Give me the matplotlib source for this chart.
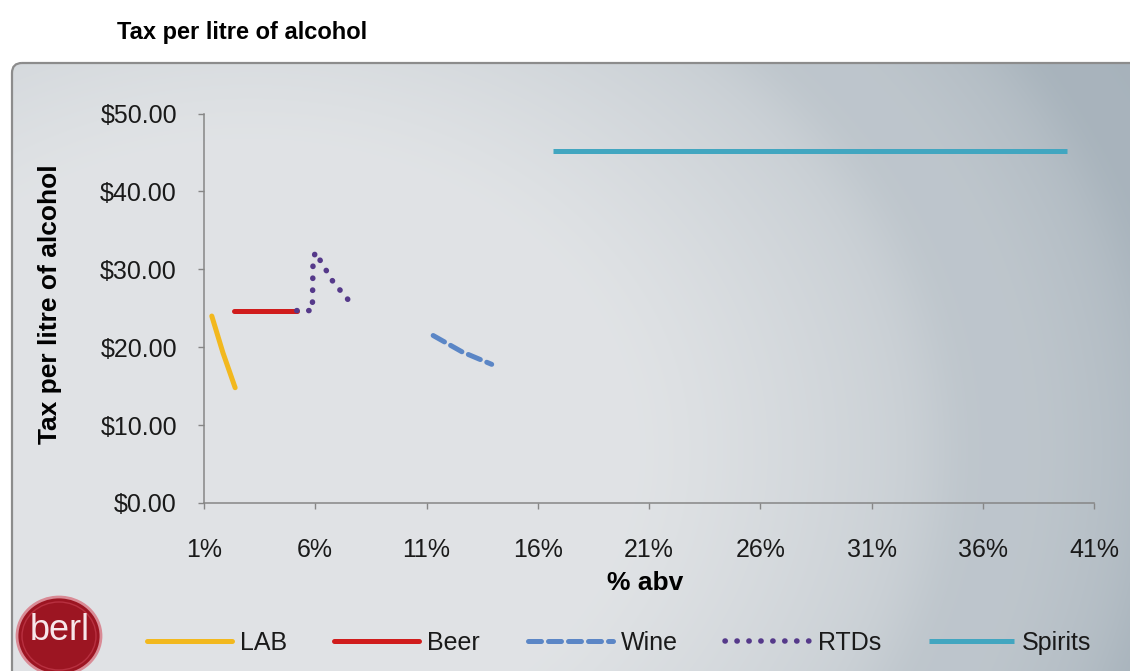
import numpy as np
import matplotlib
matplotlib.use("Agg")
import matplotlib.pyplot as plt
from matplotlib.patches import FancyBboxPatch, Ellipse

plt.rcParams['font.family'] = ['Liberation Sans', 'DejaVu Sans']

# ---- data ----
lab_x = [1.35, 1.85, 2.4]
lab_y = [24.0, 19.3, 14.8]
beer_x = [2.35, 5.17]
beer_y = [24.7, 24.7]
wine_x = [11.3, 12.6, 13.93]
wine_y = [21.5, 19.4, 17.8]
rtd_x = [5.17, 5.87, 5.9, 6.0, 6.8, 7.68]
rtd_y = [24.7, 24.7, 31.0, 32.2, 28.4, 25.4]
spirits_x = [16.7, 39.8]
spirits_y = [45.2, 45.2]
x_ticks = [1, 6, 11, 16, 21, 26, 31, 36, 41]
y_ticks = [0, 10, 20, 30, 40, 50]

W, H = 1130, 671
fig = plt.figure(figsize=(W / 100, H / 100), dpi=100)
fig.patch.set_facecolor('white')

# ---- background panel ----
bg = fig.add_axes([0, 0, 1, 1], zorder=0)
bg.set_xlim(0, W)
bg.set_ylim(H, 0)
bg.axis('off')

yy, xx = np.mgrid[0:H, 0:W].astype(float)
r = np.sqrt(((xx - 250) / 1.0) ** 2 + ((yy - 450) / 0.8) ** 2)
t = np.clip((r - 380) / 620, 0, 1) ** 1.2
t += 0.10 * np.exp(-((r - 720) / 45) ** 2)
t += 0.10 * np.exp(-((r - 930) / 40) ** 2)
t = np.clip(t, 0, 1)
light = np.array([0.880, 0.890, 0.900])
dark = np.array([0.655, 0.700, 0.735])
img = light[None, None, :] * (1 - t[..., None]) + dark[None, None, :] * t[..., None]

panel = FancyBboxPatch((12, 63), W + 40, H, boxstyle="round,pad=0,rounding_size=10",
                       transform=bg.transData, facecolor='none', edgecolor='#8c8c8c',
                       linewidth=1.6, zorder=2)
im = bg.imshow(img, extent=(0, W, H, 0), zorder=1, aspect='auto')
clip = FancyBboxPatch((12, 63), W + 40, H, boxstyle="round,pad=0,rounding_size=10",
                      transform=bg.transData, facecolor='none', edgecolor='none')
bg.add_patch(clip)
im.set_clip_path(clip)
bg.add_patch(panel)

# logo
bg.add_patch(Ellipse((59, 636), 84, 78, facecolor='#9c1522', edgecolor='#d98a95',
                     linewidth=2.0, zorder=3))
bg.add_patch(Ellipse((59, 636), 74, 68, facecolor='none', edgecolor='#b83040',
                     linewidth=1.0, zorder=3))
bg.text(60, 630, 'berl', color='#f7e6ea', fontsize=26, ha='center', va='center',
        zorder=4, family=['Liberation Sans', 'DejaVu Sans'])

# ---- main axes ----
x0, x1 = 204, 1094
y0, y1 = 503, 113.5
ax = fig.add_axes([x0 / W, 1 - y0 / H, (x1 - x0) / W, (y0 - y1) / H], zorder=3)
ax.patch.set_alpha(0)

lw = 3.6
ax.plot(lab_x, lab_y, color='#f2b81e', lw=lw, solid_capstyle='round', label='LAB')
ax.plot(beer_x, beer_y, color='#d01c1c', lw=lw, solid_capstyle='round', label='Beer')
ax.plot(wine_x, wine_y, color='#5b86c6', lw=lw, linestyle=(0, (2.6, 1.4)),
        dash_capstyle='round', label='Wine')
ax.plot(rtd_x, rtd_y, color='#55398a', lw=4.0, linestyle=(0, (0.05, 2.1)),
        dash_capstyle='round', label='RTDs')
ax.plot(spirits_x, spirits_y, color='#42a6c0', lw=lw, solid_capstyle='butt', label='Spirits')

ax.set_xlim(1, 41)
ax.set_ylim(0, 50)
ax.set_xticks(x_ticks)
ax.set_xticklabels([f"{v}%" for v in x_ticks])
ax.set_yticks(y_ticks)
ax.set_yticklabels([f"${v:.2f}" for v in y_ticks])
for s in ['top', 'right']:
    ax.spines[s].set_visible(False)
for s in ['left', 'bottom']:
    ax.spines[s].set_color('#868686')
    ax.spines[s].set_linewidth(1.1)
ax.tick_params(axis='both', direction='out', length=4.5, width=1.0, color='#868686',
               labelsize=18, labelcolor='#1a1a1a')
ax.tick_params(axis='y', pad=15)
ax.tick_params(axis='x', pad=21)

# labels and title
fig.text(645 / W, 1 - 583 / H, '% abv', fontsize=19, fontweight='bold',
         ha='center', va='center', color='black')
fig.text(50 / W, 1 - 304 / H, 'Tax per litre of alcohol', fontsize=19, fontweight='bold',
         rotation=90, ha='center', va='center', color='black')
fig.text(117 / W, 1 - 33 / H, 'Tax per litre of alcohol', fontsize=17, fontweight='bold',
         ha='left', va='center', color='black')

handles, labels = ax.get_legend_handles_labels()
leg = fig.legend(handles, labels, loc='center', bbox_to_anchor=(619 / W, 1 - 643 / H),
                 ncol=5, frameon=False, fontsize=18, handlelength=3.4,
                 handletextpad=0.32, columnspacing=1.9)
for txt in leg.get_texts():
    txt.set_color('#1a1a1a')
leg.set_zorder(5)

fig.savefig('out.png', dpi=100)
